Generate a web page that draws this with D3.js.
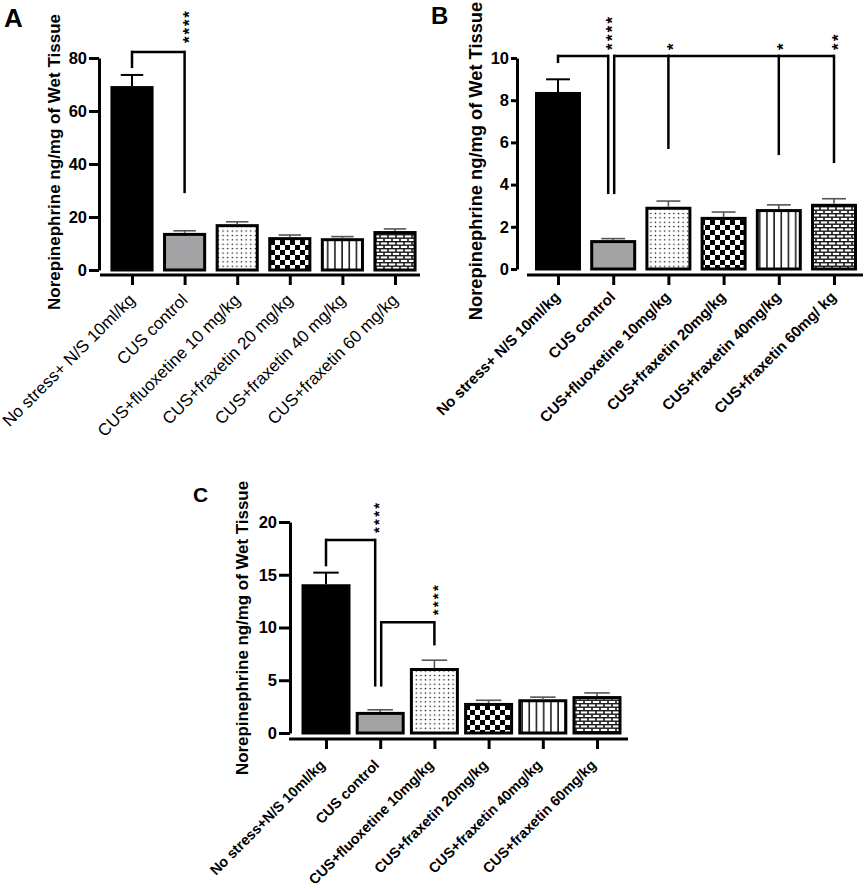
<!DOCTYPE html>
<html>
<head>
<meta charset="utf-8">
<script src="https://cdn.jsdelivr.net/npm/d3@7"></script>
<style>
  body { margin: 0; background: #fff; }
  text { font-family: "Liberation Sans", Arial, sans-serif; fill: #000; }
</style>
</head>
<body>
<svg id="fig" width="865" height="890"></svg>
<script>
// Panel A data
const groupsA = ['No stress+ N/S 10ml/kg', 'CUS control', 'CUS+fluoxetine 10 mg/kg',
  'CUS+fraxetin 20 mg/kg', 'CUS+fraxetin 40 mg/kg', 'CUS+fraxetin 60 mg/kg'];
const meansA = [69.4, 14.0, 17.3, 12.4, 12.0, 14.7];
const semA = [4.2, 0.8, 0.9, 0.8, 0.6, 0.8];
const ticksA = [0, 20, 40, 60, 80];
const bracketsA = [
  { legs: [0, 1], ends: [76.2, 29], at: 82.3, stars: ['', '****'] }
];

// Panel B data
const groupsB = ['No stress+ N/S 10ml/kg', 'CUS control', 'CUS+fluoxetine 10mg/kg',
  'CUS+fraxetin 20mg/kg', 'CUS+fraxetin 40mg/kg', 'CUS+fraxetin 60mg/ kg'];
const meansB = [8.39, 1.37, 2.95, 2.47, 2.84, 3.09];
const semB = [0.6, 0.07, 0.27, 0.23, 0.2, 0.24];
const ticksB = [0, 2, 4, 6, 8, 10];
const bracketsB = [
  { legs: [0, 1], ends: [9.76, 3.55], at: 10.1, stars: ['', '****'] },
  { legs: [1, 2, 4, 5], ends: [3.55, 5.69, 5.4, 5.02], at: 10.1, stars: ['', '*', '*', '**'] }
];

// Panel C data
const groupsC = ['No stress+N/S 10ml/kg', 'CUS control', 'CUS+fluoxetine 10mg/kg',
  'CUS+fraxetin 20mg/kg', 'CUS+fraxetin 40mg/kg', 'CUS+fraxetin 60mg/kg'];
const meansC = [14.1, 2.0, 6.16, 2.85, 3.2, 3.5];
const semC = [1.1, 0.2, 0.74, 0.25, 0.2, 0.3];
const ticksC = [0, 5, 10, 15, 20];
const bracketsC = [
  { legs: [0, 1], ends: [15.8, 4.4], at: 18.3, stars: ['', '****'] },
  { legs: [1, 2], ends: [4.4, 8.3], at: 10.5, stars: ['', '****'] }
];

const yTitle = 'Norepinephrine ng/mg of Wet Tissue';
const fills = ['#000', '#a3a3a6', 'url(#dots)', 'url(#checker)', 'url(#vlines)', 'url(#bricks)'];

const svg = d3.select('#fig');
const defs = svg.append('defs');

// fill patterns
function pattern(id, w, h, bg) {
  const p = defs.append('pattern').attr('id', id)
    .attr('patternUnits', 'userSpaceOnUse').attr('width', w).attr('height', h);
  p.append('rect').attr('width', w).attr('height', h).attr('fill', bg);
  return p;
}
const dots = pattern('dots', 4.6, 4.4, '#fff');
dots.append('circle').attr('cx', 2.3).attr('cy', 2.2).attr('r', 0.75).attr('fill', '#000');

const checker = pattern('checker', 10, 10, '#fff');
checker.append('rect').attr('width', 5).attr('height', 5).attr('fill', '#000');
checker.append('rect').attr('x', 5).attr('y', 5).attr('width', 5).attr('height', 5).attr('fill', '#000');

const vlines = pattern('vlines', 7.2, 10, '#fff');
vlines.append('rect').attr('x', 3).attr('width', 1.4).attr('height', 10).attr('fill', '#000');

const bricks = pattern('bricks', 8, 7, '#1a1a1a');
[[0.8, 0.9], [-3.2, 4.4], [4.8, 4.4]].forEach(([bx, by]) => {
  bricks.append('rect').attr('x', bx).attr('y', by).attr('width', 6.4).attr('height', 2.1).attr('fill', '#fff');
});

function drawPanel(p) {
  const g = svg.append('g');
  const x = d3.scaleBand().domain(d3.range(p.groups.length))
    .range(p.xRange).paddingInner(p.pad).paddingOuter(p.pad / 2);
  const y = d3.scaleLinear().domain([0, p.yMax]).range([p.y0, p.yTop]);
  const bw = x.bandwidth();
  const cx = i => x(i) + bw / 2;

  // y axis
  const ya = g.append('g')
    .attr('transform', `translate(${p.yAxisX},0)`)
    .call(d3.axisLeft(y).tickValues(p.ticks).tickSize(p.tickLen).tickSizeOuter(0).tickPadding(2));
  ya.select('.domain').attr('stroke-width', 3);
  ya.selectAll('.tick line').attr('stroke-width', 3);
  ya.selectAll('.tick text').attr('font-size', 16.5).attr('font-weight', 'bold')
    .attr('font-family', '"Liberation Sans", Arial, sans-serif');

  // x axis
  const xa = g.append('g')
    .attr('transform', `translate(0,${p.xAxisY})`)
    .call(d3.axisBottom(d3.scalePoint().domain(d3.range(p.groups.length)).range([cx(0), cx(p.groups.length - 1)]))
      .tickSize(10).tickSizeOuter(0).tickFormat(''));
  xa.select('.domain').remove();
  xa.selectAll('.tick line').attr('stroke-width', 3);
  g.append('line')
    .attr('x1', p.xStart).attr('x2', p.xEnd)
    .attr('y1', p.xAxisY).attr('y2', p.xAxisY)
    .attr('stroke', '#000').attr('stroke-width', 3);

  // category labels
  g.selectAll('text.cat')
    .data(p.groups)
    .enter()
    .append('text')
    .attr('class', 'cat')
    .attr('transform', (d, i) => `translate(${cx(i) + p.lblDx},${p.xAxisY + p.lblDy}) rotate(-45)`)
    .attr('text-anchor', 'end')
    .attr('font-size', p.lblSize)
    .attr('font-weight', p.lblWeight)
    .text(d => d);

  // bars
  g.selectAll('rect.bar')
    .data(p.means)
    .enter()
    .append('rect')
    .attr('class', 'bar')
    .attr('x', (d, i) => x(i) + 1.5)
    .attr('y', d => y(d) + 1.5)
    .attr('width', bw - 3)
    .attr('height', d => y(0) - y(d) - 1.5)
    .attr('fill', (d, i) => fills[i])
    .attr('stroke', '#000')
    .attr('stroke-width', 3);

  // error bars (upper only)
  const eb = g.selectAll('g.err')
    .data(p.means)
    .enter()
    .append('g')
    .attr('class', 'err')
    .attr('stroke', (d, i) => i === 0 ? '#000' : '#555')
    .attr('stroke-width', (d, i) => i === 0 ? 2 : 1.6);
  eb.append('line')
    .attr('x1', (d, i) => cx(i)).attr('x2', (d, i) => cx(i))
    .attr('y1', d => y(d)).attr('y2', (d, i) => y(d + p.sem[i]));
  eb.append('line')
    .attr('x1', (d, i) => cx(i) - bw * 0.26).attr('x2', (d, i) => cx(i) + bw * 0.26)
    .attr('y1', (d, i) => y(d + p.sem[i])).attr('y2', (d, i) => y(d + p.sem[i]));

  // significance brackets
  p.brackets.forEach((b, k) => {
    const xs = b.legs.map((li, j) => {
      let xx = cx(li);
      const last = j === b.legs.length - 1;
      if (last && p.brackets.some((o, m) => m !== k && o.legs[0] === li)) xx -= 5;
      if (j === 0 && p.brackets.some((o, m) => m !== k && o.legs[o.legs.length - 1] === li)) xx += 1;
      return xx;
    });
    const yt = y(b.at);
    g.append('line')
      .attr('x1', xs[0]).attr('x2', xs[xs.length - 1])
      .attr('y1', yt).attr('y2', yt)
      .attr('stroke', '#000').attr('stroke-width', 2.5);
    xs.forEach((xx, j) => {
      g.append('line')
        .attr('x1', xx).attr('x2', xx)
        .attr('y1', yt - 1.25).attr('y2', y(b.ends[j]))
        .attr('stroke', '#000').attr('stroke-width', 2.5);
      if (b.stars[j]) {
        g.append('text')
          .attr('transform', `translate(${xx},${yt - p.starLift}) rotate(-90)`)
          .attr('dy', '0.6em')
          .attr('font-size', p.starSize)
          .attr('font-weight', 'bold')
          .attr('letter-spacing', p.starGap)
          .text(b.stars[j]);
      }
    });
  });

  // y title
  g.append('text')
    .attr('transform', `translate(${p.titleX},${p.titleY}) rotate(-90)`)
    .attr('text-anchor', 'middle')
    .attr('dy', '0.28em')
    .attr('font-size', p.titleSize)
    .attr('font-weight', 'bold')
    .text(yTitle);

  // panel letter
  g.append('text')
    .attr('x', p.letterX).attr('y', p.letterY)
    .attr('font-size', p.letterSize)
    .attr('font-weight', 'bold')
    .text(p.letter);
}

drawPanel({
  letter: 'A', letterX: 4, letterY: 27, letterSize: 26,
  groups: groupsA, means: meansA, sem: semA, ticks: ticksA, brackets: bracketsA,
  yMax: 80, y0: 270, yTop: 58, yAxisX: 99, tickLen: 10,
  xRange: [105.7, 421.3], pad: 0.18, xAxisY: 275, xStart: 100, xEnd: 420,
  lblDx: 4, lblDy: 26, lblSize: 17, lblWeight: 'normal',
  titleX: 55, titleY: 162, titleSize: 17,
  starSize: 17, starGap: 1.8, starLift: 9
});

drawPanel({
  letter: 'B', letterX: 431, letterY: 24, letterSize: 24,
  groups: groupsB, means: meansB, sem: semB, ticks: ticksB, brackets: bracketsB,
  yMax: 10, y0: 269, yTop: 58, yAxisX: 517, tickLen: 6,
  xRange: [530.4, 861.6], pad: 0.167, xAxisY: 275, xStart: 527, xEnd: 863,
  lblDx: 3, lblDy: 23, lblSize: 15.1, lblWeight: 'bold',
  titleX: 477, titleY: 161, titleSize: 18.3,
  starSize: 17, starGap: 2.2, starLift: 6
});

drawPanel({
  letter: 'C', letterX: 193, letterY: 502, letterSize: 21,
  groups: groupsC, means: meansC, sem: semC, ticks: ticksC, brackets: bracketsC,
  yMax: 20, y0: 733, yTop: 522, yAxisX: 290, tickLen: 11,
  xRange: [298.9, 624.1], pad: 0.096, xAxisY: 739, xStart: 289, xEnd: 628,
  lblDx: 0, lblDy: 27, lblSize: 14.4, lblWeight: 'bold',
  titleX: 243, titleY: 628, titleSize: 16.9,
  starSize: 15, starGap: 2.2, starLift: 7
});
</script>
</body>
</html>
